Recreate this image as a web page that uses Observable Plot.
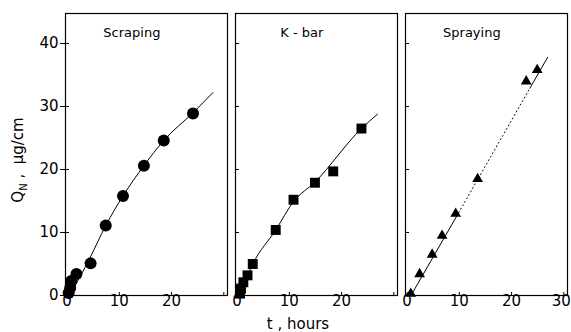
<!DOCTYPE html>
<html>
<head>
<meta charset="utf-8">
<script src="https://cdn.jsdelivr.net/npm/d3@7"></script>
<script src="https://cdn.jsdelivr.net/npm/@observablehq/plot@0.6"></script>
<style>
  html, body { margin: 0; padding: 0; background: #fff; }
</style>
</head>
<body>
<script>
// ---- data ----
const panels = ["Scraping", "K - bar", "Spraying"];

const scrapingT = [0.3, 0.6, 0.8, 1.8, 4.5, 7.4, 10.7, 14.7, 18.5, 24.1];
const scrapingQ = [0.4, 1.2, 2.3, 3.4, 5.1, 11.1, 15.8, 20.6, 24.6, 28.9];
const scrapingCurveT = [0.5, 4.4, 7.4, 10.7, 14.7, 18.5, 24.1, 27.9];
const scrapingCurveQ = [0, 6.0, 11.1, 15.8, 20.6, 24.6, 29.0, 32.2];

const kbarT = [0.56, 0.75, 1.2, 2.0, 3.0, 7.4, 10.8, 14.9, 18.4, 23.8];
const kbarQ = [0.3, 1.1, 2.1, 3.2, 5.0, 10.4, 15.2, 17.9, 19.7, 26.5];
const kbarCurveT = [0.4, 3.0, 7.4, 10.8, 14.9, 23.8, 26.9];
const kbarCurveQ = [0, 5.0, 10.4, 14.9, 18.0, 26.5, 28.8];

const sprayT = [0.7, 2.4, 4.8, 6.7, 9.3, 13.5, 22.8, 24.9];
const sprayQ = [0.3, 3.4, 6.5, 9.5, 13.0, 18.5, 34.0, 35.8];
const sprayLineT = [0.75, 9.5, 23.5, 26.9];
const sprayLineQ = [0, 12.6, 32.9, 37.8];

const yTicks = [0, 10, 20, 30, 40];
const xTicksNarrow = [0, 10, 20];
const xTicksLast = [0, 10, 20, 30];

// ---- tables ----
const rows = (panel, T, Q) => T.map((t, i) => ({panel, t, q: Q[i]}));
const scrapingPts = rows(panels[0], scrapingT, scrapingQ);
const kbarPts = rows(panels[1], kbarT, kbarQ);
const sprayPts = rows(panels[2], sprayT, sprayQ);
const scrapingCurve = rows(panels[0], scrapingCurveT, scrapingCurveQ);
const kbarCurve = rows(panels[1], kbarCurveT, kbarCurveQ);
const sprayLine = rows(panels[2], sprayLineT, sprayLineQ);
const spraySolidA = sprayLine.slice(0, 2);
const sprayDotted = sprayLine.slice(1, 3);
const spraySolidB = sprayLine.slice(2, 4);

const xTickRows = [
  ...xTicksNarrow.map(t => ({panel: panels[0], t})),
  ...xTicksNarrow.map(t => ({panel: panels[1], t})),
  ...xTicksLast.map(t => ({panel: panels[2], t}))
];
const xTickRowsInner = xTickRows.slice(0, -1);
const xTickRowsEdge = xTickRows.slice(-1);
const titleRows = panels.map(panel => ({panel}));

const chart = Plot.plot({
  width: 571,
  height: 332,
  marginLeft: 65,
  marginRight: 4,
  marginTop: 13,
  marginBottom: 37,
  style: {fontFamily: "DejaVu Sans, sans-serif", fontSize: "15px", color: "#000", background: "#fff"},
  fx: {domain: panels, paddingInner: 0.05, paddingOuter: 0, axis: null, label: null},
  x: {domain: [-0.3, 30.7], axis: null},
  y: {domain: [0, 44.76], axis: null},
  marks: [
    Plot.frame({stroke: "#000", strokeWidth: 1.2}),
    Plot.axisY({ticks: yTicks, facetAnchor: "left", tickSize: 5, tickPadding: 2, label: null, fontSize: 15}),
    Plot.axisY({ticks: yTicks, facetAnchor: null, tickSize: -4, text: null, label: null}),
    Plot.axisX({ticks: xTicksLast, facetAnchor: null, tickSize: -3, text: null, label: null}),
    Plot.text(xTickRowsInner, {x: "t", fx: "panel", text: d => String(d.t), frameAnchor: "bottom", dy: 10, fontSize: 15}),
    Plot.text(xTickRowsEdge, {x: "t", fx: "panel", text: d => String(d.t), frameAnchor: "bottom", dy: 10, dx: 7, textAnchor: "end", fontSize: 15}),
    Plot.text(titleRows, {fx: "panel", x: 12.4, text: "panel", frameAnchor: "top", dy: 14, fontSize: 13}),
    Plot.line(scrapingCurve, {x: "t", y: "q", fx: "panel", curve: "monotone-x", stroke: "#000", strokeWidth: 1}),
    Plot.line(kbarCurve, {x: "t", y: "q", fx: "panel", curve: "monotone-x", stroke: "#000", strokeWidth: 1}),
    Plot.line(spraySolidA, {x: "t", y: "q", fx: "panel", stroke: "#000", strokeWidth: 1}),
    Plot.line(sprayDotted, {x: "t", y: "q", fx: "panel", stroke: "#000", strokeWidth: 1, strokeDasharray: "1,3"}),
    Plot.line(spraySolidB, {x: "t", y: "q", fx: "panel", stroke: "#000", strokeWidth: 1}),
    Plot.dot(scrapingPts, {x: "t", y: "q", fx: "panel", r: 6, fill: "#000", stroke: "none"}),
    Plot.dot(kbarPts, {x: "t", y: "q", fx: "panel", r: 5.6, symbol: "square", fill: "#000", stroke: "none"}),
    Plot.dot(sprayPts, {x: "t", y: "q", fx: "panel", r: 4, symbol: "triangle", fill: "#000", stroke: "none"})
  ]
});
document.body.append(chart);

// axis titles (with subscript N)
const svg = d3.select(chart);
const yl = svg.append("text")
  .attr("transform", "translate(23,160) rotate(-90)")
  .attr("text-anchor", "middle")
  .attr("font-family", "DejaVu Sans, sans-serif")
  .attr("font-size", 15)
  .attr("fill", "#000");
yl.append("tspan").text("Q");
yl.append("tspan").attr("font-size", 10).attr("dy", 4).text("N");
yl.append("tspan").attr("dy", -4).text(" ,  μg/cm");

svg.append("text")
  .attr("x", 298).attr("y", 329)
  .attr("text-anchor", "middle")
  .attr("font-family", "DejaVu Sans, sans-serif")
  .attr("font-size", 15)
  .attr("fill", "#000")
  .text("t , hours");
</script>
</body>
</html>
